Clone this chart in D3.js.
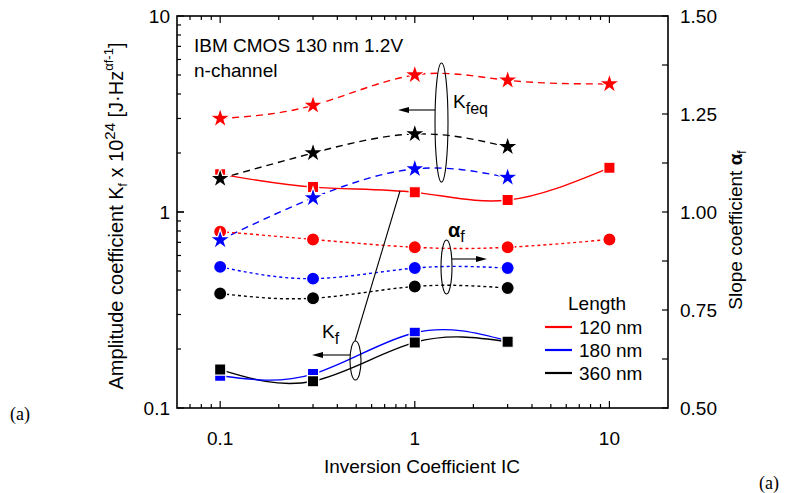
<!DOCTYPE html>
<html><head><meta charset="utf-8">
<script src="https://cdn.jsdelivr.net/npm/d3@7"></script>
<style>
body{margin:0;background:#fff;}
text{font-family:"Liberation Sans",Arial,sans-serif;fill:#000;}
text.serif{font-family:"Liberation Serif","Times New Roman",serif;}
</style></head>
<body><svg id="c" width="796" height="493"></svg>
<script>
// ---- data ----
const ic5 = [0.1, 0.3, 1, 3, 10];
const ic4 = [0.1, 0.3, 1, 3];
const kfeq120 = [3.0, 3.5, 5.0, 4.7, 4.5];
const kfeq180 = [0.72, 1.18, 1.66, 1.5];
const kfeq360 = [1.48, 2.0, 2.5, 2.15];
const kf120 = [1.56, 1.34, 1.26, 1.15, 1.68];
const kf180 = [0.146, 0.149, 0.242, 0.22];
const kf360 = [0.157, 0.137, 0.216, 0.218];
const af120 = [0.95, 0.93, 0.91, 0.91, 0.93];
const af180 = [0.86, 0.83, 0.857, 0.857];
const af360 = [0.792, 0.78, 0.81, 0.806];
const xTicks = [0.1, 1, 10];
const yLeftTicks = [0.1, 1, 10];
const yRightTicks = [0.50, 0.75, 1.00, 1.25, 1.50];
const legendLabels = ["120 nm", "180 nm", "360 nm"];
const colors = ["#ff0000", "#0000ff", "#000000"];

const svg = d3.select("#c");
const L = 177, R = 668, T = 16, B = 408;
const x = d3.scaleLog().domain([0.06, 20]).range([L, R]);
const yL = d3.scaleLog().domain([0.1, 10]).range([B, T]);
const yR = d3.scaleLinear().domain([0.5, 1.5]).range([B, T]);

// frame
svg.append("rect").attr("x", L).attr("y", T).attr("width", R - L).attr("height", B - T)
  .attr("fill", "none").attr("stroke", "#000").attr("stroke-width", 1.6);

// minor/major ticks
const xMinor = [];
[0.01, 0.1, 1, 10].forEach(d => { for (let k = 1; k < 10; k++) { const v = +(d * k).toPrecision(3); if (v > 0.06 && v < 20) xMinor.push(v); } });
const g = svg.append("g").attr("stroke", "#000").attr("stroke-width", 1.2);
xMinor.forEach(v => {
  const major = xTicks.includes(v);
  const len = major ? 7 : 4;
  g.append("line").attr("x1", x(v)).attr("x2", x(v)).attr("y1", B).attr("y2", B - len);
  g.append("line").attr("x1", x(v)).attr("x2", x(v)).attr("y1", T).attr("y2", T + len);
});
const yMinor = [];
[0.1, 1].forEach(d => { for (let k = 1; k <= 10; k++) yMinor.push(+(d * k).toPrecision(3)); });
yMinor.forEach(v => {
  const major = yLeftTicks.includes(v);
  const len = major ? 7 : 4;
  g.append("line").attr("x1", L).attr("x2", L + len).attr("y1", yL(v)).attr("y2", yL(v));
});
d3.range(0.5, 1.5001, 0.125).forEach(v => {
  g.append("line").attr("x1", R).attr("x2", R - 6).attr("y1", yR(v)).attr("y2", yR(v));
});

// tick labels
const fs = 19;
xTicks.forEach(v => svg.append("text").attr("x", x(v)).attr("y", 445).attr("text-anchor", "middle")
  .attr("font-size", fs).text(d3.format("~g")(v)));
yLeftTicks.forEach(v => svg.append("text").attr("x", 170).attr("y", yL(v) + 7).attr("text-anchor", "end")
  .attr("font-size", fs).text(d3.format("~g")(v)));
yRightTicks.forEach(v => svg.append("text").attr("x", 680).attr("y", yR(v) + 7).attr("text-anchor", "start")
  .attr("font-size", fs).text(v.toFixed(2)));

// axis titles
svg.append("text").attr("x", 422).attr("y", 473).attr("text-anchor", "middle").attr("font-size", fs)
  .text("Inversion Coefficient IC");
const lt = svg.append("text").attr("transform", "translate(123,216) rotate(-90)").attr("text-anchor", "middle").attr("font-size", 20);
lt.append("tspan").text("Amplitude coefficient K");
lt.append("tspan").attr("font-size", 12).attr("dy", 4).text("f");
lt.append("tspan").attr("dy", -4).text(" x 10");
lt.append("tspan").attr("font-size", 15).attr("dy", -8).text("24");
lt.append("tspan").attr("dy", 8).text(" [J·Hz");
lt.append("tspan").attr("font-size", 13).attr("dy", -10).text("αf-1");
lt.append("tspan").attr("dy", 10).text("]");
const rt = svg.append("text").attr("transform", "translate(742,230) rotate(-90)").attr("text-anchor", "middle").attr("font-size", fs);
rt.append("tspan").text("Slope coefficient ");
rt.append("tspan").attr("font-weight", "bold").text("α");
rt.append("tspan").attr("font-size", 12).attr("dy", 4).text("f");

// (a) labels
svg.append("text").attr("class", "serif").attr("x", 10).attr("y", 420).attr("font-size", 18).text("(a)");
svg.append("text").attr("class", "serif").attr("x", 759).attr("y", 489).attr("font-size", 18).text("(a)");

// lines
const lineL = d3.line().x(d => x(d[0])).y(d => yL(d[1])).curve(d3.curveNatural);
const lineR = d3.line().x(d => x(d[0])).y(d => yR(d[1])).curve(d3.curveNatural);
const kfeq = [kfeq120, kfeq180, kfeq360];
const kf = [kf120, kf180, kf360];
const af = [af120, af180, af360];
const icOf = arr => arr.length === 5 ? ic5 : ic4;
const zip = arr => icOf(arr).map((c, i) => [c, arr[i]]);
const lg = svg.append("g").attr("fill", "none").attr("stroke-width", 1.4);
[2, 1, 0].forEach(i => {
  lg.append("path").attr("d", lineL(zip(kfeq[i]))).attr("stroke", colors[i]).attr("stroke-dasharray", "7,5");
  lg.append("path").attr("d", lineL(zip(kf[i]))).attr("stroke", colors[i]);
  lg.append("path").attr("d", lineR(zip(af[i]))).attr("stroke", colors[i]).attr("stroke-dasharray", "3,3");
});

// markers
const mg = svg.append("g").attr("stroke", "#fff").attr("stroke-width", 1.2);
const circ = d3.symbol().type(d3.symbolCircle).size(135);
const sq = d3.symbol().type(d3.symbolSquare).size(125);
const star = d3.symbol().type(d3.symbolStar).size(130);
[2, 0, 1].forEach(i => zip(af[i]).forEach(d => mg.append("path").attr("d", circ())
  .attr("transform", `translate(${x(d[0])},${yR(d[1])})`).attr("fill", colors[i])));
[0, 1, 2].forEach(i => zip(kf[i]).forEach(d => mg.append("path").attr("d", sq())
  .attr("transform", `translate(${x(d[0])},${yL(d[1])})`).attr("fill", colors[i])));
[0, 1, 2].forEach(i => zip(kfeq[i]).forEach(d => mg.append("path").attr("d", star())
  .attr("transform", `translate(${x(d[0])},${yL(d[1])})`).attr("fill", colors[i])));

// annotations
const ann = svg.append("g").attr("stroke", "#000").attr("stroke-width", 1.1).attr("fill", "none");
function arrow(x1, y, x2) {
  const dir = Math.sign(x2 - x1);
  ann.append("line").attr("x1", x1).attr("x2", x2 - dir * 8).attr("y1", y).attr("y2", y);
  svg.append("path").attr("d", `M${x2},${y} L${x2 - dir * 11},${y - 3} L${x2 - dir * 11},${y + 3} Z`).attr("fill", "#000");
}
ann.append("ellipse").attr("cx", 441.5).attr("cy", 122.5).attr("rx", 6.5).attr("ry", 59.5);
arrow(435, 110, 398);
ann.append("ellipse").attr("cx", 446.5).attr("cy", 267).attr("rx", 5.5).attr("ry", 27);
arrow(452, 259, 487);
ann.append("ellipse").attr("cx", 355.5).attr("cy", 360.5).attr("rx", 5.5).attr("ry", 19.5);
arrow(350, 355, 312);
ann.append("line").attr("x1", 355).attr("y1", 341).attr("x2", 400).attr("y2", 191);

const t1 = svg.append("text").attr("x", 453).attr("y", 108).attr("font-size", fs);
t1.append("tspan").text("K");
t1.append("tspan").attr("font-size", 16).attr("dy", 6).text("feq");
const t2 = svg.append("text").attr("x", 448).attr("y", 237).attr("font-size", 20);
t2.append("tspan").attr("font-weight", "bold").text("α");
t2.append("tspan").attr("font-size", 16).attr("dy", 5).text("f");
const t3 = svg.append("text").attr("x", 322).attr("y", 338).attr("font-size", fs);
t3.append("tspan").text("K");
t3.append("tspan").attr("font-size", 16).attr("dy", 6).text("f");

svg.append("text").attr("x", 194).attr("y", 52).attr("font-size", fs).text("IBM CMOS 130 nm 1.2V");
svg.append("text").attr("x", 194).attr("y", 77).attr("font-size", fs).text("n-channel");

// legend
svg.append("text").attr("x", 568).attr("y", 310).attr("font-size", fs).text("Length");
legendLabels.forEach((lab, i) => {
  const yy = 327 + i * 23;
  svg.append("line").attr("x1", 545).attr("x2", 572).attr("y1", yy).attr("y2", yy).attr("stroke", colors[i]).attr("stroke-width", 2.2);
  svg.append("text").attr("x", 579).attr("y", yy + 7).attr("font-size", fs).text(lab);
});
</script></body></html>
